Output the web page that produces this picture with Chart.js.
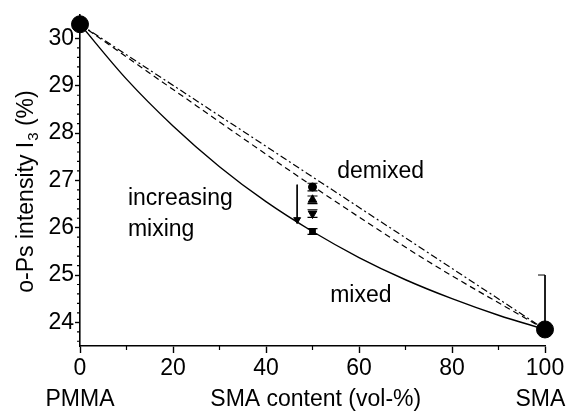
<!DOCTYPE html>
<html>
<head>
    <title>o-Ps intensity vs SMA content</title>
    <style>
        body {
            margin: 0;
            background: #fff;
        }
    </style>
</head>
<body>
    <canvas id="chart" width="568" height="414"></canvas>

    <script src="https://cdn.jsdelivr.net/npm/chart.js"></script>
    <script>
        // values
        var xTicks = [0, 20, 40, 60, 80, 100];
        var yTicks = [24, 25, 26, 27, 28, 29, 30];

        var endX = [0, 100];              // PMMA, SMA
        var endY = [30.3, 23.85];

        var mixedX = [0, 10, 20, 30, 40, 50, 60, 70, 80, 90, 100];
        var mixedY = [30.3, 29.14, 28.15, 27.29, 26.55, 25.92, 25.37, 24.9, 24.5, 24.15, 23.85];

        var demixedX = [0, 100];
        var demixedY = [30.3, 23.85];

        var dashedX = [0, 25, 50, 75, 100];
        var dashedY = [30.3, 28.58, 26.88, 25.28, 23.85];

        var blendX = 50;
        var blendY = [26.86, 26.59, 26.3, 25.92];
        var blendErr = [0.08, 0.08, 0.08, 0.06];

        var arrowX = [46.7, 46.7];
        var arrowY = [26.91, 26.17];

        var smaBarX = [98.5, 100, 100];
        var smaBarY = [25.0, 25.0, 23.85];

        var notes = [
            { text: 'demixed', x: 55.3, y: 27.05 },
            { text: 'increasing', x: 10.3, y: 26.48 },
            { text: 'mixing', x: 10.3, y: 25.82 },
            { text: 'mixed', x: 53.8, y: 24.42 }
        ];

        function pts(xs, ys) {
            return ys.map(function (v, i) { return { x: xs[i], y: v }; });
        }

        var FONT = '"Liberation Sans", Arial, sans-serif';
        Chart.defaults.font.family = FONT;
        Chart.defaults.font.size = 23;
        Chart.defaults.color = '#000';

        var extras = {
            id: 'extras',
            afterDraw: function (chart) {
                var ctx = chart.ctx;
                var x = chart.scales.x, y = chart.scales.y;
                ctx.save();
                ctx.strokeStyle = '#000';
                ctx.fillStyle = '#000';
                ctx.lineWidth = 1.2;

                // minor ticks
                ctx.beginPath();
                for (var v = 10; v < 100; v += 20) {
                    var px = x.getPixelForValue(v);
                    ctx.moveTo(px, x.top);
                    ctx.lineTo(px, x.top + 4);
                }
                for (var k = 118; k <= 152; k++) {
                    if (k % 5 === 0) continue;
                    var py = y.getPixelForValue(k / 5);
                    ctx.moveTo(y.right, py);
                    ctx.lineTo(y.right - 3, py);
                }
                ctx.stroke();

                // error caps on the blend points
                ctx.beginPath();
                blendY.forEach(function (v, i) {
                    var cx = x.getPixelForValue(blendX);
                    var t = y.getPixelForValue(v + blendErr[i]);
                    var b = y.getPixelForValue(v - blendErr[i]);
                    ctx.moveTo(cx - 5, t); ctx.lineTo(cx + 5, t);
                    ctx.moveTo(cx - 5, b); ctx.lineTo(cx + 5, b);
                });
                ctx.stroke();

                // annotations
                ctx.font = '23px ' + FONT;
                ctx.textBaseline = 'alphabetic';
                ctx.textAlign = 'left';
                notes.forEach(function (n) {
                    ctx.fillText(n.text, x.getPixelForValue(n.x), y.getPixelForValue(n.y));
                });

                // bottom labels
                ctx.textAlign = 'center';
                ctx.fillText('PMMA', x.getPixelForValue(0), 406);
                ctx.fillText('SMA', x.getPixelForValue(99), 406);
                ctx.fillText('SMA content (vol-%)', x.getPixelForValue(50.7), 406);

                // y title with subscript
                ctx.translate(33, 192);
                ctx.rotate(-Math.PI / 2);
                var p1 = 'o-Ps intensity I', p3 = ' (%)';
                ctx.font = '23px ' + FONT;
                var w1 = ctx.measureText(p1).width;
                var w3 = ctx.measureText(p3).width;
                ctx.font = '15px ' + FONT;
                var w2 = ctx.measureText('3').width;
                var start = -(w1 + w2 + w3) / 2;
                ctx.textAlign = 'left';
                ctx.font = '23px ' + FONT;
                ctx.fillText(p1, start, 0);
                ctx.font = '15px ' + FONT;
                ctx.fillText('3', start + w1 + 1, 5);
                ctx.font = '23px ' + FONT;
                ctx.fillText(p3, start + w1 + w2 + 1, 0);
                ctx.restore();
            }
        };

        var ctx = document.getElementById('chart').getContext('2d');
        var chart = new Chart(ctx, {
            type: 'scatter',
            data: {
                datasets: [{
                    label: 'mixed',
                    data: pts(mixedX, mixedY),
                    showLine: true,
                    borderColor: '#000',
                    borderWidth: 1.4,
                    pointRadius: 0,
                    cubicInterpolationMode: 'monotone'
                }, {
                    label: 'demixed',
                    data: pts(demixedX, demixedY),
                    showLine: true,
                    borderColor: '#000',
                    borderWidth: 1.2,
                    borderDash: [7, 3, 2, 3],
                    pointRadius: 0
                }, {
                    label: 'partial',
                    data: pts(dashedX, dashedY),
                    showLine: true,
                    borderColor: '#000',
                    borderWidth: 1.2,
                    borderDash: [6, 4],
                    pointRadius: 0,
                    cubicInterpolationMode: 'monotone'
                }, {
                    label: 'blends',
                    data: blendY.map(function (v) { return { x: blendX, y: v }; }),
                    showLine: false,
                    backgroundColor: '#000',
                    borderColor: '#000',
                    pointStyle: ['circle', 'triangle', 'triangle', 'rect'],
                    rotation: [0, 0, 180, 0],
                    pointRadius: [4, 5, 5, 4]
                }, {
                    label: 'arrow',
                    data: pts(arrowX, arrowY),
                    showLine: true,
                    borderColor: '#000',
                    borderWidth: 1,
                    backgroundColor: '#000',
                    pointStyle: 'triangle',
                    rotation: 180,
                    pointRadius: [0, 4]
                }, {
                    label: 'sma bar',
                    data: pts(smaBarX, smaBarY),
                    showLine: true,
                    borderColor: '#000',
                    borderWidth: 1,
                    pointRadius: 0,
                    clip: false
                }, {
                    label: 'pure',
                    data: pts(endX, endY),
                    showLine: false,
                    backgroundColor: '#000',
                    borderColor: '#000',
                    pointRadius: 8.5,
                    clip: false
                }]
            },
            options: {
                responsive: false,
                animation: false,
                layout: {
                    autoPadding: false,
                    padding: { top: 11, right: 23, left: 0, bottom: 0 }
                },
                plugins: {
                    legend: { display: false },
                    tooltip: { enabled: false }
                },
                scales: {
                    x: {
                        type: 'linear',
                        min: 0,
                        max: 100,
                        afterBuildTicks: function (s) {
                            s.ticks = xTicks.map(function (v) { return { value: v }; });
                        },
                        afterFit: function (s) { s.height = 68; },
                        grid: {
                            drawOnChartArea: false,
                            tickLength: 7,
                            tickColor: '#000',
                            tickWidth: 1.4
                        },
                        border: { color: '#000', width: 1.6 },
                        ticks: { padding: 2, maxRotation: 0 }
                    },
                    y: {
                        type: 'linear',
                        min: 23.5,
                        max: 30.5,
                        afterBuildTicks: function (s) {
                            s.ticks = yTicks.map(function (v) { return { value: v }; });
                        },
                        afterFit: function (s) { s.width = 80; },
                        grid: {
                            drawOnChartArea: false,
                            tickLength: 5,
                            tickColor: '#000',
                            tickWidth: 1.4
                        },
                        border: { color: '#000', width: 1.6 },
                        ticks: { padding: 1 }
                    }
                }
            },
            plugins: [extras]
        });
    </script>
</body>
</html>
